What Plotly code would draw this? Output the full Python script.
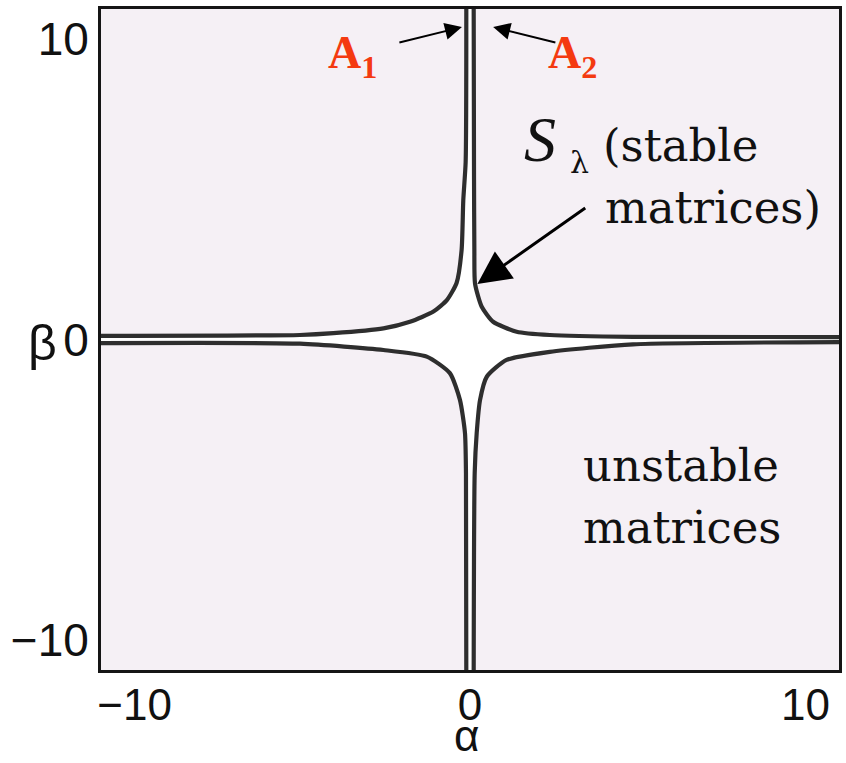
import plotly.graph_objects as go

# Boundary of the stable set S_lambda in the (alpha, beta) plane,
# one branch per quadrant, listed from the vertical arm to the horizontal arm.
ur_alpha = [0.11, 0.12, 0.13, 0.15, 0.35, 0.69, 1.39, 2.38, 4.86, 11.0]
ur_beta = [11.0, 5.32, 3.00, 1.86, 1.09, 0.59, 0.26, 0.15, 0.09, 0.08]

ul_alpha = [-0.11, -0.13, -0.20, -0.25, -0.40, -0.69, -1.09, -1.79, -2.58, -4.07, -5.07, -11.0]
ul_beta = [11.0, 5.90, 4.64, 2.98, 1.88, 1.31, 0.93, 0.59, 0.37, 0.21, 0.15, 0.12]

ll_alpha = [-0.11, -0.12, -0.15, -0.30, -0.60, -1.29, -2.58, -5.07, -11.0]
ll_beta = [-11.0, -4.44, -3.11, -2.01, -1.12, -0.57, -0.35, -0.14, -0.12]

lr_alpha = [0.11, 0.14, 0.20, 0.30, 0.50, 1.09, 2.38, 4.86, 11.0]
lr_beta = [-11.0, -4.44, -3.11, -2.01, -1.24, -0.68, -0.41, -0.16, -0.09]

axis_ticks = [-10, 0, 10]
axis_range = [-11, 11]

W, H = 846, 763
ML, MR, MT, MB = 101, 7, 9, 93
PW, PH = W - ML - MR, H - MT - MB


def paper(px, py):
    """Pixel position on the page -> paper coordinates."""
    return (px - ML) / PW, (H - MB - py) / PH


# Closed outline of the stable region (clockwise from the top arm)
poly_a = ur_alpha + lr_alpha[::-1] + ll_alpha + ul_alpha[::-1]
poly_b = ur_beta + lr_beta[::-1] + ll_beta + ul_beta[::-1]

fig = go.Figure()
fig.add_trace(go.Scatter(x=poly_a, y=poly_b, mode="lines", fill="toself",
                         fillcolor="white", line=dict(width=0),
                         hoverinfo="skip", showlegend=False))
for a, b in [(ur_alpha, ur_beta), (ul_alpha, ul_beta),
             (ll_alpha, ll_beta), (lr_alpha, lr_beta)]:
    fig.add_trace(go.Scatter(x=a, y=b, mode="lines",
                             line=dict(color="#2e2e2e", width=4.2, shape="spline",
                                       smoothing=0.6),
                             hoverinfo="skip", showlegend=False))

tick_font = dict(family="Liberation Sans, Arial, sans-serif", size=46, color="#111")
axis_common = dict(range=axis_range, tickvals=axis_ticks, ticktext=["\u221210", "0", "10"],
                   showgrid=False, zeroline=False, showline=True, mirror=True,
                   linewidth=3, linecolor="#151515", ticks="", tickfont=tick_font,
                   fixedrange=True, automargin=False)

fig.update_layout(
    width=W, height=H,
    margin=dict(l=ML, r=MR, t=MT, b=MB, pad=0, autoexpand=False),
    paper_bgcolor="white",
    plot_bgcolor="#f5f0f5",
    xaxis=dict(**axis_common),
    yaxis=dict(**axis_common),
)
fig.update_xaxes(tickfont_size=44, ticklabelstandoff=-6)

red = "#f43a10"
serif = "DejaVu Serif, serif"
sans = "Liberation Sans, Arial, sans-serif"
annos = []


def text_at(px, py, txt, size, family=serif, color="#111", anchor="left"):
    x, y = paper(px, py)
    annos.append(dict(x=x, y=y, xref="paper", yref="paper", text=txt,
                      showarrow=False, xanchor=anchor, yanchor="middle",
                      font=dict(family=family, size=size, color=color)))


text_at(326, 56, "<b>A<sub>1</sub></b>", 46, family="Liberation Serif, Times New Roman, serif", color=red)
text_at(546, 56, "<b>A<sub>2</sub></b>", 46, family="Liberation Serif, Times New Roman, serif", color=red)
text_at(522, 139, "<i>S</i>", 64, family="Liberation Serif, Times New Roman, serif")
text_at(568, 163, "\u03bb", 30)
text_at(601, 145, "(stable", 45)
text_at(603, 207, "matrices)", 45)
text_at(581, 465, "unstable", 45)
text_at(581, 527, "matrices", 45)
# axis names
text_at(42, 343, "\u03b2", 50, family=sans, anchor="center")
text_at(466, 735, "\u03b1", 44, family=sans, anchor="center")

# Arrows: (head alpha, head beta, tail alpha, tail beta, width, size)
arrows = [(-0.24, 10.4, -2.15, 9.87, 2, 1.7),
          (0.69, 10.4, 2.59, 9.87, 2, 1.7),
          (0.22, 1.85, 3.48, 4.41, 3, 2.2)]
for hx, hy, tx, ty, w, s in arrows:
    annos.append(dict(x=hx, y=hy, ax=tx, ay=ty, xref="x", yref="y", axref="x", ayref="y",
                      text="", showarrow=True, arrowhead=2, arrowwidth=w, arrowsize=s,
                      arrowcolor="#000"))

fig.update_layout(annotations=annos)
fig.write_html("out.html")
